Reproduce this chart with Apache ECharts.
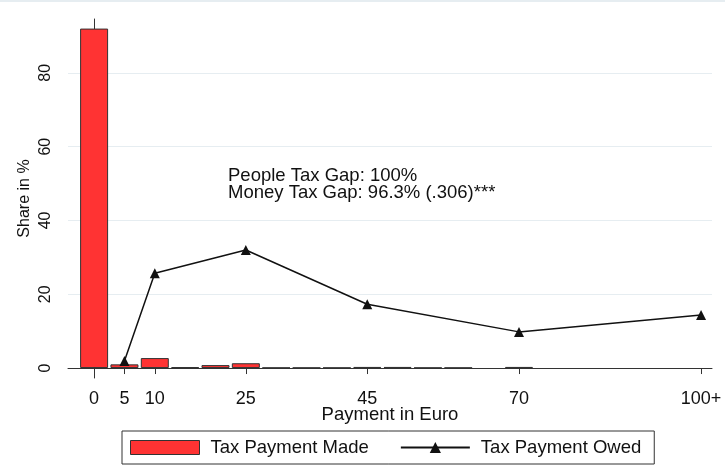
<!DOCTYPE html>
<html>
<head>
<meta charset="utf-8">
<script src="https://cdn.jsdelivr.net/npm/echarts@6/dist/echarts.min.js"></script>
<style>
  html, body { margin: 0; padding: 0; background: #fff; }
  #chart { width: 725px; height: 465px; }
</style>
</head>
<body>
<div id="chart"></div>
<script>
// payment amounts (euro) and shares
var barPayments = [0, 5, 10, 15, 20, 25, 30, 35, 40, 45, 50, 55, 60, 70];
var barShares = [92, 1.0, 2.7, 0.25, 0.8, 1.3, 0.1, 0.1, 0.1, 0.3, 0.3, 0.1, 0.1, 0.3];
var owedPayments = [5, 10, 25, 45, 70, 100];
var owedShares = [1.9, 25.7, 32.0, 17.3, 9.8, 14.4];
var xTicks = [0, 5, 10, 25, 45, 70, 100];
var yTicks = [0, 20, 40, 60, 80];
var notes = ['People Tax Gap: 100%', 'Money Tax Gap: 96.3% (.306)***'];

var font = 'Liberation Sans, Arial, sans-serif';

var myChart = echarts.init(document.getElementById('chart'));

var option = {
  backgroundColor: '#fff',
  animation: false,
  grid: { left: 68, top: 19, right: 13, bottom: 87 },
  legend: {
    bottom: 1,
    left: 122,
    padding: [7, 13, 7, 8],
    borderColor: '#333',
    borderWidth: 1,
    itemWidth: 69,
    itemHeight: 14,
    itemGap: 31,
    textStyle: { fontFamily: font, fontSize: 18.5, color: '#111', padding: [0, 0, 0, 6] },
    data: [
      { name: 'Tax Payment Made', icon: 'rect', itemStyle: { color: '#ff3333', borderColor: '#333', borderWidth: 1 } },
      { name: 'Tax Payment Owed' }
    ]
  },
  graphic: [
    {
      type: 'line',
      shape: { x1: 0, y1: 1, x2: 725, y2: 1 },
      style: { stroke: '#e6edf1', lineWidth: 2 }
    },
    {
      type: 'text',
      left: 228,
      top: 166,
      style: { text: notes.join('\n'), font: '18.5px ' + font, fill: '#111', lineHeight: 17 }
    }
  ],
  xAxis: {
    type: 'value',
    min: -4.3,
    max: 101.8,
    name: 'Payment in Euro',
    nameLocation: 'middle',
    nameGap: 27,
    nameMoveOverlap: false,
    nameTextStyle: { fontFamily: font, fontSize: 18.5, color: '#111' },
    axisLine: { show: true, lineStyle: { color: '#333', width: 1 } },
    axisTick: { show: true, customValues: xTicks, length: 6, lineStyle: { color: '#333' } },
    axisLabel: {
      customValues: xTicks,
      fontFamily: font, fontSize: 18, color: '#111', margin: 12,
      formatter: function (v) { return v === 100 ? '100+' : String(v); }
    },
    splitLine: { show: false }
  },
  yAxis: {
    type: 'value',
    min: -2.7,
    max: 94.6,
    name: 'Share in %',
    nameLocation: 'middle',
    nameGap: 35,
    nameMoveOverlap: false,
    nameRotate: 90,
    nameTextStyle: { fontFamily: font, fontSize: 16, color: '#111' },
    axisLine: { show: true, lineStyle: { color: '#333', width: 1 } },
    axisTick: { show: true, customValues: yTicks, length: 6, lineStyle: { color: '#333' } },
    axisLabel: {
      customValues: yTicks,
      rotate: 90,
      fontFamily: font, fontSize: 16, color: '#111', margin: 14
    },
    splitLine: { show: true, lineStyle: { color: '#e6edf1', width: 1 } }
  },
  series: [
    {
      name: 'Tax Payment Made',
      type: 'bar',
      barWidth: 28,
      itemStyle: { color: '#ff3333', borderColor: '#333', borderWidth: 1 },
      data: barPayments.map(function (p, i) { return [p, barShares[i]]; })
    },
    {
      name: 'Tax Payment Owed',
      type: 'line',
      symbol: 'triangle',
      symbolSize: 10,
      itemStyle: { color: '#111' },
      lineStyle: { color: '#111', width: 1.5 },
      data: owedPayments.map(function (p, i) { return [p, owedShares[i]]; }),
      z: 3
    }
  ]
};

myChart.setOption(option);
</script>
</body>
</html>
